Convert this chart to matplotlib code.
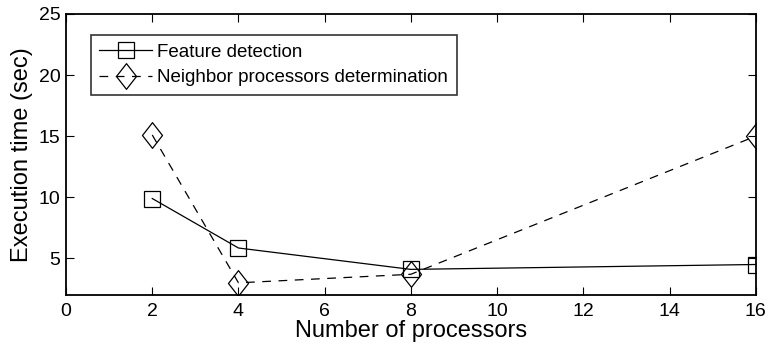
import numpy as np
import matplotlib.pyplot as plt
from matplotlib.path import Path

plt.rcParams['font.family'] = ['Liberation Sans', 'DejaVu Sans']

# data
procs = [2, 4, 8, 16]
feature_time = [9.9, 5.85, 4.1, 4.5]
neighbor_time = [15.1, 3.0, 3.7, 15.0]

x_ticks = [0, 2, 4, 6, 8, 10, 12, 14, 16]
y_ticks = [5, 10, 15, 20, 25]

# MATLAB-like diamond (taller than wide)
diamond = Path([(0, 1), (0.78, 0), (0, -1), (-0.78, 0), (0, 1)],
               [Path.MOVETO, Path.LINETO, Path.LINETO, Path.LINETO, Path.CLOSEPOLY])

fig = plt.figure(figsize=(7.68, 3.5), dpi=100)
ax = fig.add_axes([0.086, 0.157, 0.898, 0.803])

ax.plot(procs, feature_time, '-', color='black', lw=0.9,
        marker='s', ms=11.5, mfc='none', mec='black', mew=0.9,
        label='Feature detection')
ax.plot(procs, neighbor_time, '--', color='black', lw=0.9, dashes=(7, 6),
        marker=diamond, ms=18.5, mfc='none', mec='black', mew=0.9,
        label='Neighbor processors determination')

ax.set_xlim(0, 16)
ax.set_ylim(2, 25)
ax.set_xticks(x_ticks)
ax.set_yticks(y_ticks)
ax.tick_params(direction='in', length=6, width=0.8, labelsize=14,
               top=True, right=True, colors='black')
ax.tick_params(axis='x', pad=6)
ax.tick_params(axis='y', pad=4)
for s in ax.spines.values():
    s.set_linewidth(1.3)

ax.set_xlabel('Number of processors', fontsize=17, labelpad=0)
ax.set_ylabel('Execution time (sec)', fontsize=17, labelpad=4)

leg = ax.legend(loc='upper left', bbox_to_anchor=(0.036, 0.925), fontsize=13.5,
                frameon=True, fancybox=False, edgecolor='black',
                handlelength=2.8, handletextpad=0.3, borderpad=0.45,
                labelspacing=0.45, borderaxespad=0)
leg.get_frame().set_linewidth(1.2)

fig.savefig('out.png', dpi=100)
